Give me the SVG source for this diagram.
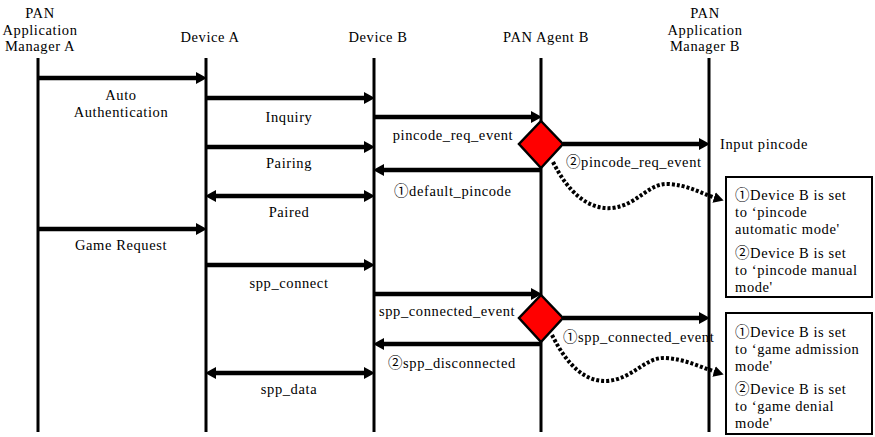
<svg xmlns="http://www.w3.org/2000/svg" width="875" height="437" viewBox="0 0 875 437">
<defs>
<style>
text{font-family:"Liberation Serif","Noto Sans CJK KR",serif;font-size:14.5px;fill:#000;letter-spacing:0.6px}
.m{text-anchor:middle}
.life{stroke:#000;stroke-width:3;fill:none}
.msg{stroke:#000;stroke-width:4.5;fill:none}
.dot{stroke:#000;stroke-width:4;fill:none;stroke-dasharray:3 2}
.dia{fill:#ff0000;stroke:#000;stroke-width:2.5}
.note{fill:#fff;stroke:#000;stroke-width:2}
</style>
<marker id="ah" viewBox="0 0 11 12" markerUnits="userSpaceOnUse" markerWidth="11" markerHeight="12" refX="2" refY="6" orient="auto-start-reverse">
<path d="M0,0 L11,6 L0,12 z" fill="#000"/>
</marker>
<marker id="ah2" viewBox="0 0 10 11" markerUnits="userSpaceOnUse" markerWidth="10" markerHeight="11" refX="2" refY="5.5" orient="auto">
<path d="M0,0 L10,5.5 L0,11 z" fill="#000"/>
</marker>
</defs>
<rect width="875" height="437" fill="#fff"/>

<g id="mgrA">
<text class="m" x="40" y="18">PAN</text>
<text class="m" x="40" y="35">Application</text>
<text class="m" x="40" y="51">Manager A</text>
<line class="life" x1="38" y1="58" x2="38" y2="432"/>
</g>
<g id="devA">
<text class="m" x="210" y="42">Device A</text>
<line class="life" x1="206" y1="58" x2="206" y2="432"/>
</g>
<g id="devB">
<text class="m" x="378" y="42">Device B</text>
<line class="life" x1="374" y1="58" x2="374" y2="432"/>
</g>
<g id="agentB">
<text class="m" x="546" y="42">PAN Agent B</text>
<line class="life" x1="541" y1="58" x2="541" y2="432"/>
</g>
<g id="mgrB">
<text class="m" x="705" y="18">PAN</text>
<text class="m" x="705" y="35">Application</text>
<text class="m" x="705" y="51">Manager B</text>
<line class="life" x1="709" y1="58" x2="709" y2="432"/>
</g>

<g id="connectors">
<path class="msg" d="M38,78 H198" marker-end="url(#ah)"/>
<path class="msg" d="M206,98 H366" marker-end="url(#ah)"/>
<path class="msg" d="M374,117 H533" marker-end="url(#ah)"/>
<path class="msg" d="M563,144 H701" marker-end="url(#ah)"/>
<path class="msg" d="M206,147 H366" marker-end="url(#ah)"/>
<path class="msg" d="M541,170 H382" marker-end="url(#ah)"/>
<path class="msg" d="M214,196 H366" marker-start="url(#ah)" marker-end="url(#ah)"/>
<path class="msg" d="M38,229 H198" marker-end="url(#ah)"/>
<path class="msg" d="M206,265 H366" marker-end="url(#ah)"/>
<path class="msg" d="M374,294 H533" marker-end="url(#ah)"/>
<path class="msg" d="M563,318 H701" marker-end="url(#ah)"/>
<path class="msg" d="M541,344 H382" marker-end="url(#ah)"/>
<path class="msg" d="M214,373 H366" marker-start="url(#ah)" marker-end="url(#ah)"/>
<path class="dot" d="M553,162 C568,192 588,210 612,208 C638,205 648,183 668,184 C688,185 700,193 716,198" marker-end="url(#ah2)"/>
<path class="dot" d="M552,335 C567,365 585,382 607,381 C633,379 645,357 665,358 C685,359 700,367 716,372" marker-end="url(#ah2)"/>
<text class="m" x="121" y="100">Auto</text>
<text class="m" x="121" y="117">Authentication</text>
<text class="m" x="289" y="122">Inquiry</text>
<text class="m" x="453" y="140">pincode_req_event</text>
<text x="720" y="149">Input pincode</text>
<text x="566" y="167">②pincode_req_event</text>
<text class="m" x="289" y="168">Pairing</text>
<text x="394" y="196">①default_pincode</text>
<text class="m" x="289" y="217">Paired</text>
<text class="m" x="121" y="250">Game Request</text>
<text class="m" x="289" y="288">spp_connect</text>
<text x="379" y="316">spp_connected_event</text>
<text x="563" y="342">①spp_connected_event</text>
<text x="388" y="368">②spp_disconnected</text>
<text class="m" x="289" y="394">spp_data</text>
</g>

<g id="decision1">
<polygon class="dia" points="541,121 563,144 541,168 519,144"/>
</g>
<g id="decision2">
<polygon class="dia" points="541,295 563,318 541,342 519,318"/>
</g>

<g id="note1">
<rect class="note" x="726" y="177" width="146" height="120"/>
<text x="735" y="200">①Device B is set</text>
<text x="735" y="217">to ‘pincode</text>
<text x="735" y="234">automatic mode'</text>
<text x="735" y="258">②Device B is set</text>
<text x="735" y="275">to ‘pincode manual</text>
<text x="735" y="292">mode'</text>
</g>
<g id="note2">
<rect class="note" x="726" y="313" width="146" height="121"/>
<text x="735" y="337">①Device B is set</text>
<text x="735" y="354">to ‘game admission</text>
<text x="735" y="371">mode'</text>
<text x="735" y="394">②Device B is set</text>
<text x="735" y="411">to ‘game denial</text>
<text x="735" y="428">mode'</text>
</g>
</svg>
